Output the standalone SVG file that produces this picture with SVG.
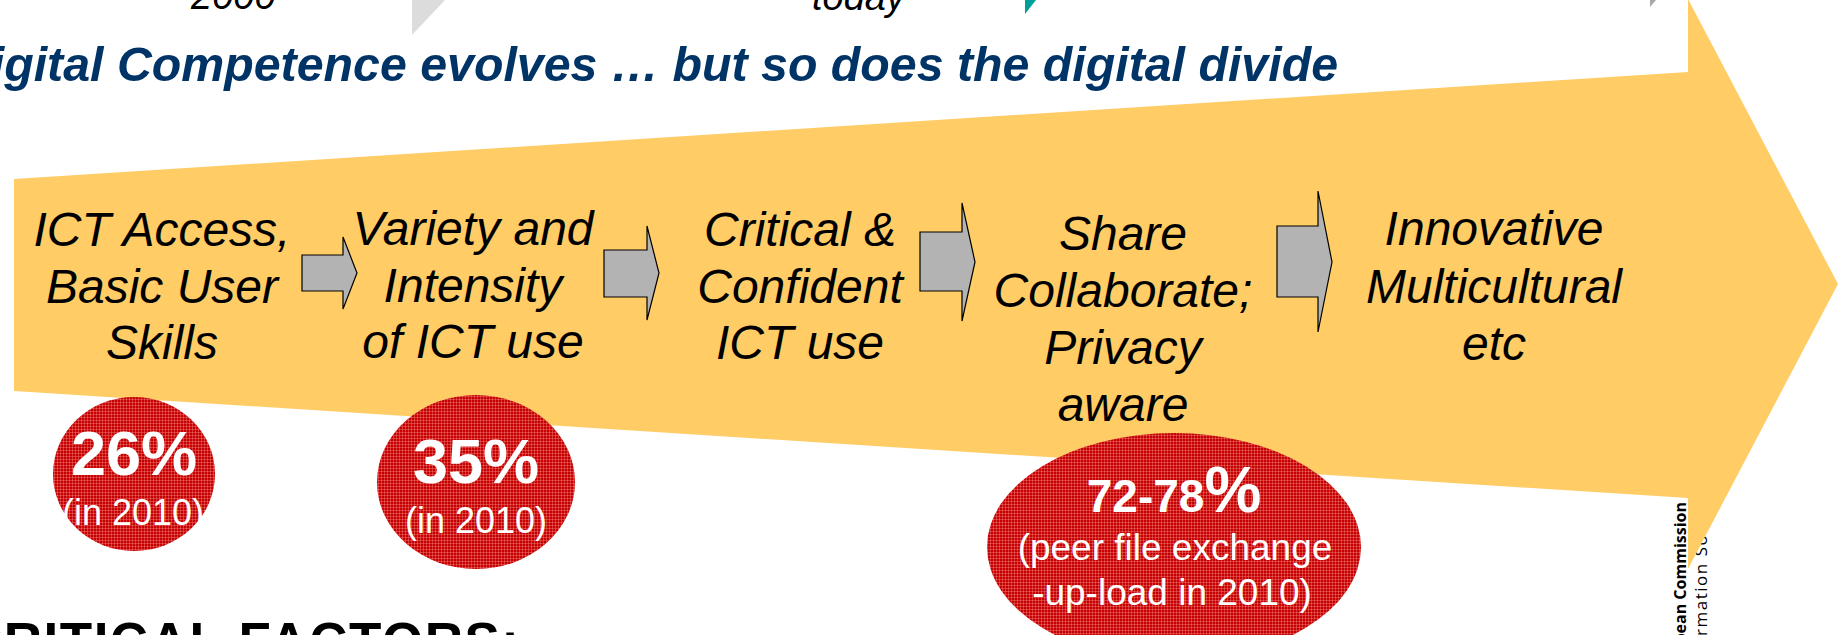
<svg xmlns="http://www.w3.org/2000/svg" width="1843" height="635" viewBox="0 0 1843 635">
  <defs>
    <!-- woven red texture for the statistic badges -->
    <pattern id="weave" width="3" height="3" patternUnits="userSpaceOnUse">
      <rect width="3" height="3" fill="#c40000"/>
      <rect width="3" height="1" fill="#ff9a9a" fill-opacity="0.35"/>
      <rect width="1" height="3" fill="#ff9a9a" fill-opacity="0.35"/>
    </pattern>
    <style>
      .step { font-family: "Liberation Sans", Arial, sans-serif; font-style: italic; font-size: 48px; fill: #000; text-anchor: middle; }
      .badge { fill: url(#weave); }
      .big { font-family: "Liberation Sans", Arial, sans-serif; font-weight: bold; fill: #fff; text-anchor: middle; }
      .small { font-family: "Liberation Sans", Arial, sans-serif; fill: #fff; text-anchor: middle; }
      .flow { fill: #b3b3b3; stroke: #000; stroke-width: 1.2; stroke-linejoin: miter; }
      .top { font-family: "Liberation Sans", Arial, sans-serif; font-style: italic; font-size: 38px; fill: #000; }
    </style>
  </defs>

  <rect width="1843" height="635" fill="#fff"/>

  <!-- remnants of the timeline above -->
  <g id="timeline">
    <text class="top" x="191" y="9">2000</text>
    <polygon points="412,0 445,0 412,35" fill="#dcdcdc"/>
    <text class="top" x="812" y="10">today</text>
    <polygon points="1025,0 1036,0 1025,14" fill="#00a09a"/>
    <polygon points="1650,0 1656,0 1650,7" fill="#a8a8a8"/>
  </g>

  <!-- title -->
  <text id="title" x="1338" y="81" font-family="Liberation Sans, Arial, sans-serif" font-size="48.3" font-weight="bold" font-style="italic" fill="#003366" text-anchor="end">Digital Competence evolves … but so does the digital divide</text>

  <!-- logo text, partly under the big arrow -->
  <g id="logo" font-family="Open Sans, DejaVu Sans, sans-serif">
    <text transform="translate(1686,502) rotate(-90)" font-size="16" font-weight="bold" fill="#000" text-anchor="end">European Commission</text>
    <text transform="translate(1707,673) rotate(-90)" font-size="17" letter-spacing="1.5" fill="#000">Information Society</text>
  </g>

  <!-- big progression arrow -->
  <polygon id="progression" points="14,179 1688,72 1688,-1 1838,284 1688,569 1688,498 14,391" fill="#ffcc66"/>

  <!-- connectors between stages -->
  <g id="connectors">
    <polygon class="flow" points="302,255 343,255 343,237 357,273 343,309 343,291 302,291"/>
    <polygon class="flow" points="604,250 647,250 647,226 659,273 647,320 647,297 604,297"/>
    <polygon class="flow" points="920,232 962,232 962,203 975,262 962,321 962,291 920,291"/>
    <polygon class="flow" points="1277,226 1318,226 1318,191 1332,262 1318,332 1318,297 1277,297"/>
  </g>

  <g id="stage-access">
    <text class="step" x="162" y="246">ICT Access,</text>
    <text class="step" x="162" y="303">Basic User</text>
    <text class="step" x="162" y="359">Skills</text>
  </g>
  <g id="stage-variety">
    <text class="step" x="473" y="245">Variety and</text>
    <text class="step" x="473" y="302">Intensity</text>
    <text class="step" x="473" y="358">of ICT use</text>
  </g>
  <g id="stage-critical">
    <text class="step" x="800" y="246">Critical &amp;</text>
    <text class="step" x="800" y="303">Confident</text>
    <text class="step" x="800" y="359">ICT use</text>
  </g>
  <g id="stage-share">
    <text class="step" x="1123" y="250">Share</text>
    <text class="step" x="1123" y="307">Collaborate;</text>
    <text class="step" x="1123" y="364">Privacy</text>
    <text class="step" x="1123" y="421">aware</text>
  </g>
  <g id="stage-innovative">
    <text class="step" x="1494" y="245">Innovative</text>
    <text class="step" x="1494" y="303">Multicultural</text>
    <text class="step" x="1494" y="360">etc</text>
  </g>

  <!-- statistic badges -->
  <g id="badge-26">
    <ellipse class="badge" cx="134" cy="474" rx="81" ry="77"/>
    <text class="big" x="134" y="475" font-size="63">26%</text>
    <text class="small" x="133" y="525" font-size="36">(in 2010)</text>
  </g>
  <g id="badge-35">
    <ellipse class="badge" cx="476" cy="482" rx="99" ry="87"/>
    <text class="big" x="476" y="483" font-size="63">35%</text>
    <text class="small" x="476" y="533" font-size="36">(in 2010)</text>
  </g>
  <g id="badge-72">
    <ellipse class="badge" cx="1174" cy="547" rx="187" ry="114"/>
    <text class="big" x="1174" y="512"><tspan font-size="46">72-78</tspan><tspan font-size="64">%</tspan></text>
    <text class="small" x="1175" y="560" font-size="37">(peer file exchange</text>
    <text class="small" x="1172" y="605" font-size="37">-up-load in 2010)</text>
  </g>

  <!-- heading of the next section, cut at the bottom -->
  <text id="factors" x="-36" y="660" font-family="Liberation Sans, Arial, sans-serif" font-size="53" font-weight="bold" letter-spacing="1.5" fill="#000">CRITICAL FACTORS:</text>
</svg>
